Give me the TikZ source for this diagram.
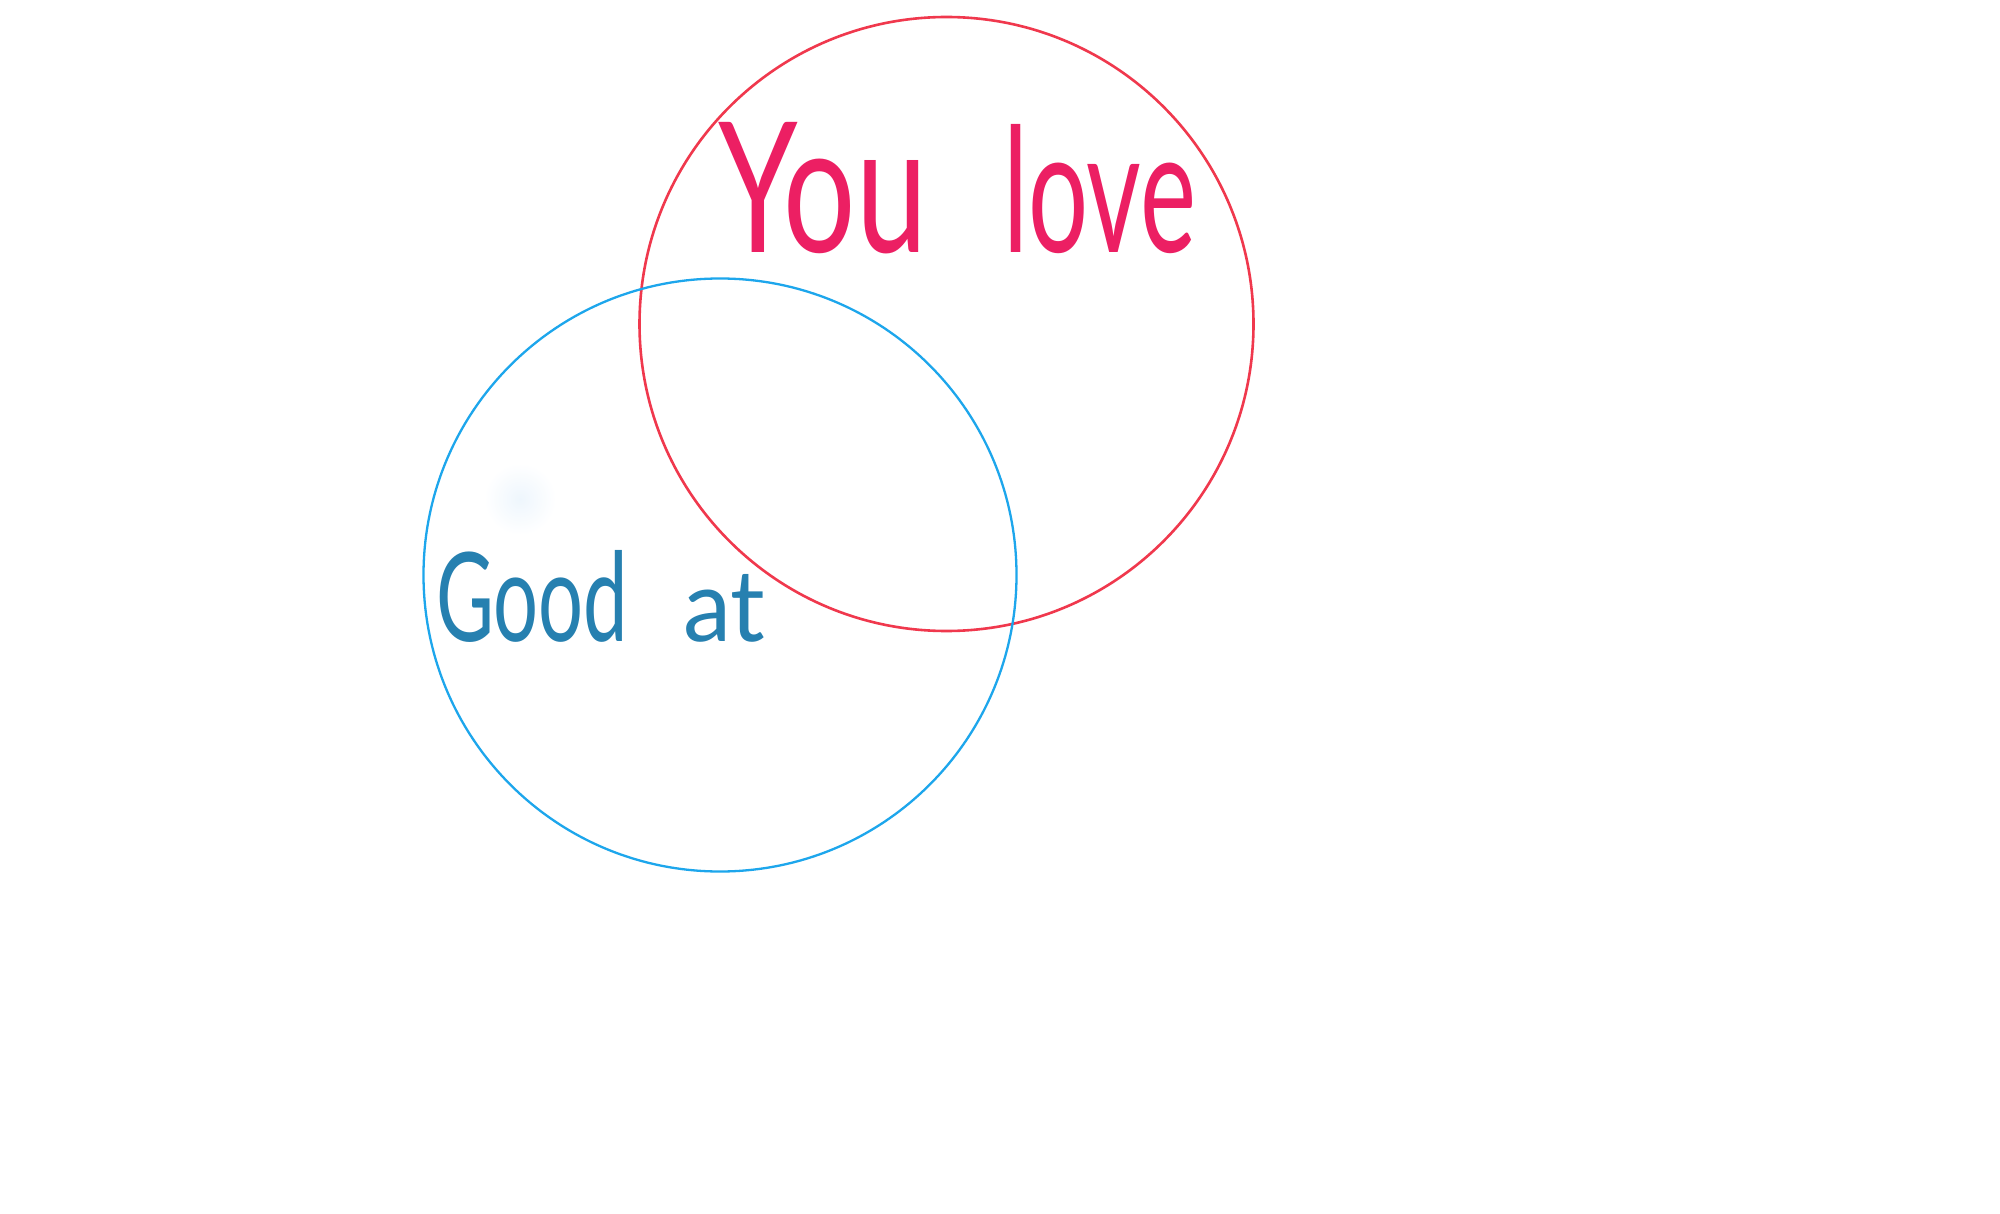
\documentclass[tikz,border=0pt]{standalone}
\usepackage{fontspec}
\setmainfont{Lato}
\usepackage{graphicx}
\definecolor{lovered}{HTML}{F0384D}
\definecolor{lovetext}{HTML}{EC1F63}
\definecolor{goodblue}{HTML}{1DA6EC}
\definecolor{goodtext}{HTML}{2680B0}
\definecolor{blobc}{HTML}{EEF6FD}
\tikzset{
  venn/.style={circle, draw, inner sep=0pt, outer sep=0pt},
  lbl/.style={inner sep=0pt, outer sep=0pt, anchor=base west}
}
\begin{document}
\begin{tikzpicture}[x=1pt,y=-1pt]
\useasboundingbox (0,0) rectangle (2000,1214);
\fill[white] (0,0) rectangle (2000,1214);
\shade[inner color=blobc, outer color=white, draw=none] (520,499) circle (36);
\node[venn, draw=lovered, line width=2.6pt, minimum size=614pt] (love) at (946.5,324) {};
\node[venn, draw=goodblue, line width=2.3pt, minimum size=593pt] (good) at (720,575) {};
\node[lbl, text=lovetext] (you) at (718,252.5) {\resizebox{209pt}{130pt}{You}};
\node[lbl, text=lovetext] (lv) at (1003,252.5) {\resizebox{193pt}{128pt}{love}};
\node[lbl, text=goodtext] (gd) at (436,641) {\resizebox{192pt}{91pt}{Good}};
\node[lbl, text=goodtext] (at) at (683,641) {\resizebox{82pt}{67pt}{at}};
\end{tikzpicture}
\end{document}
